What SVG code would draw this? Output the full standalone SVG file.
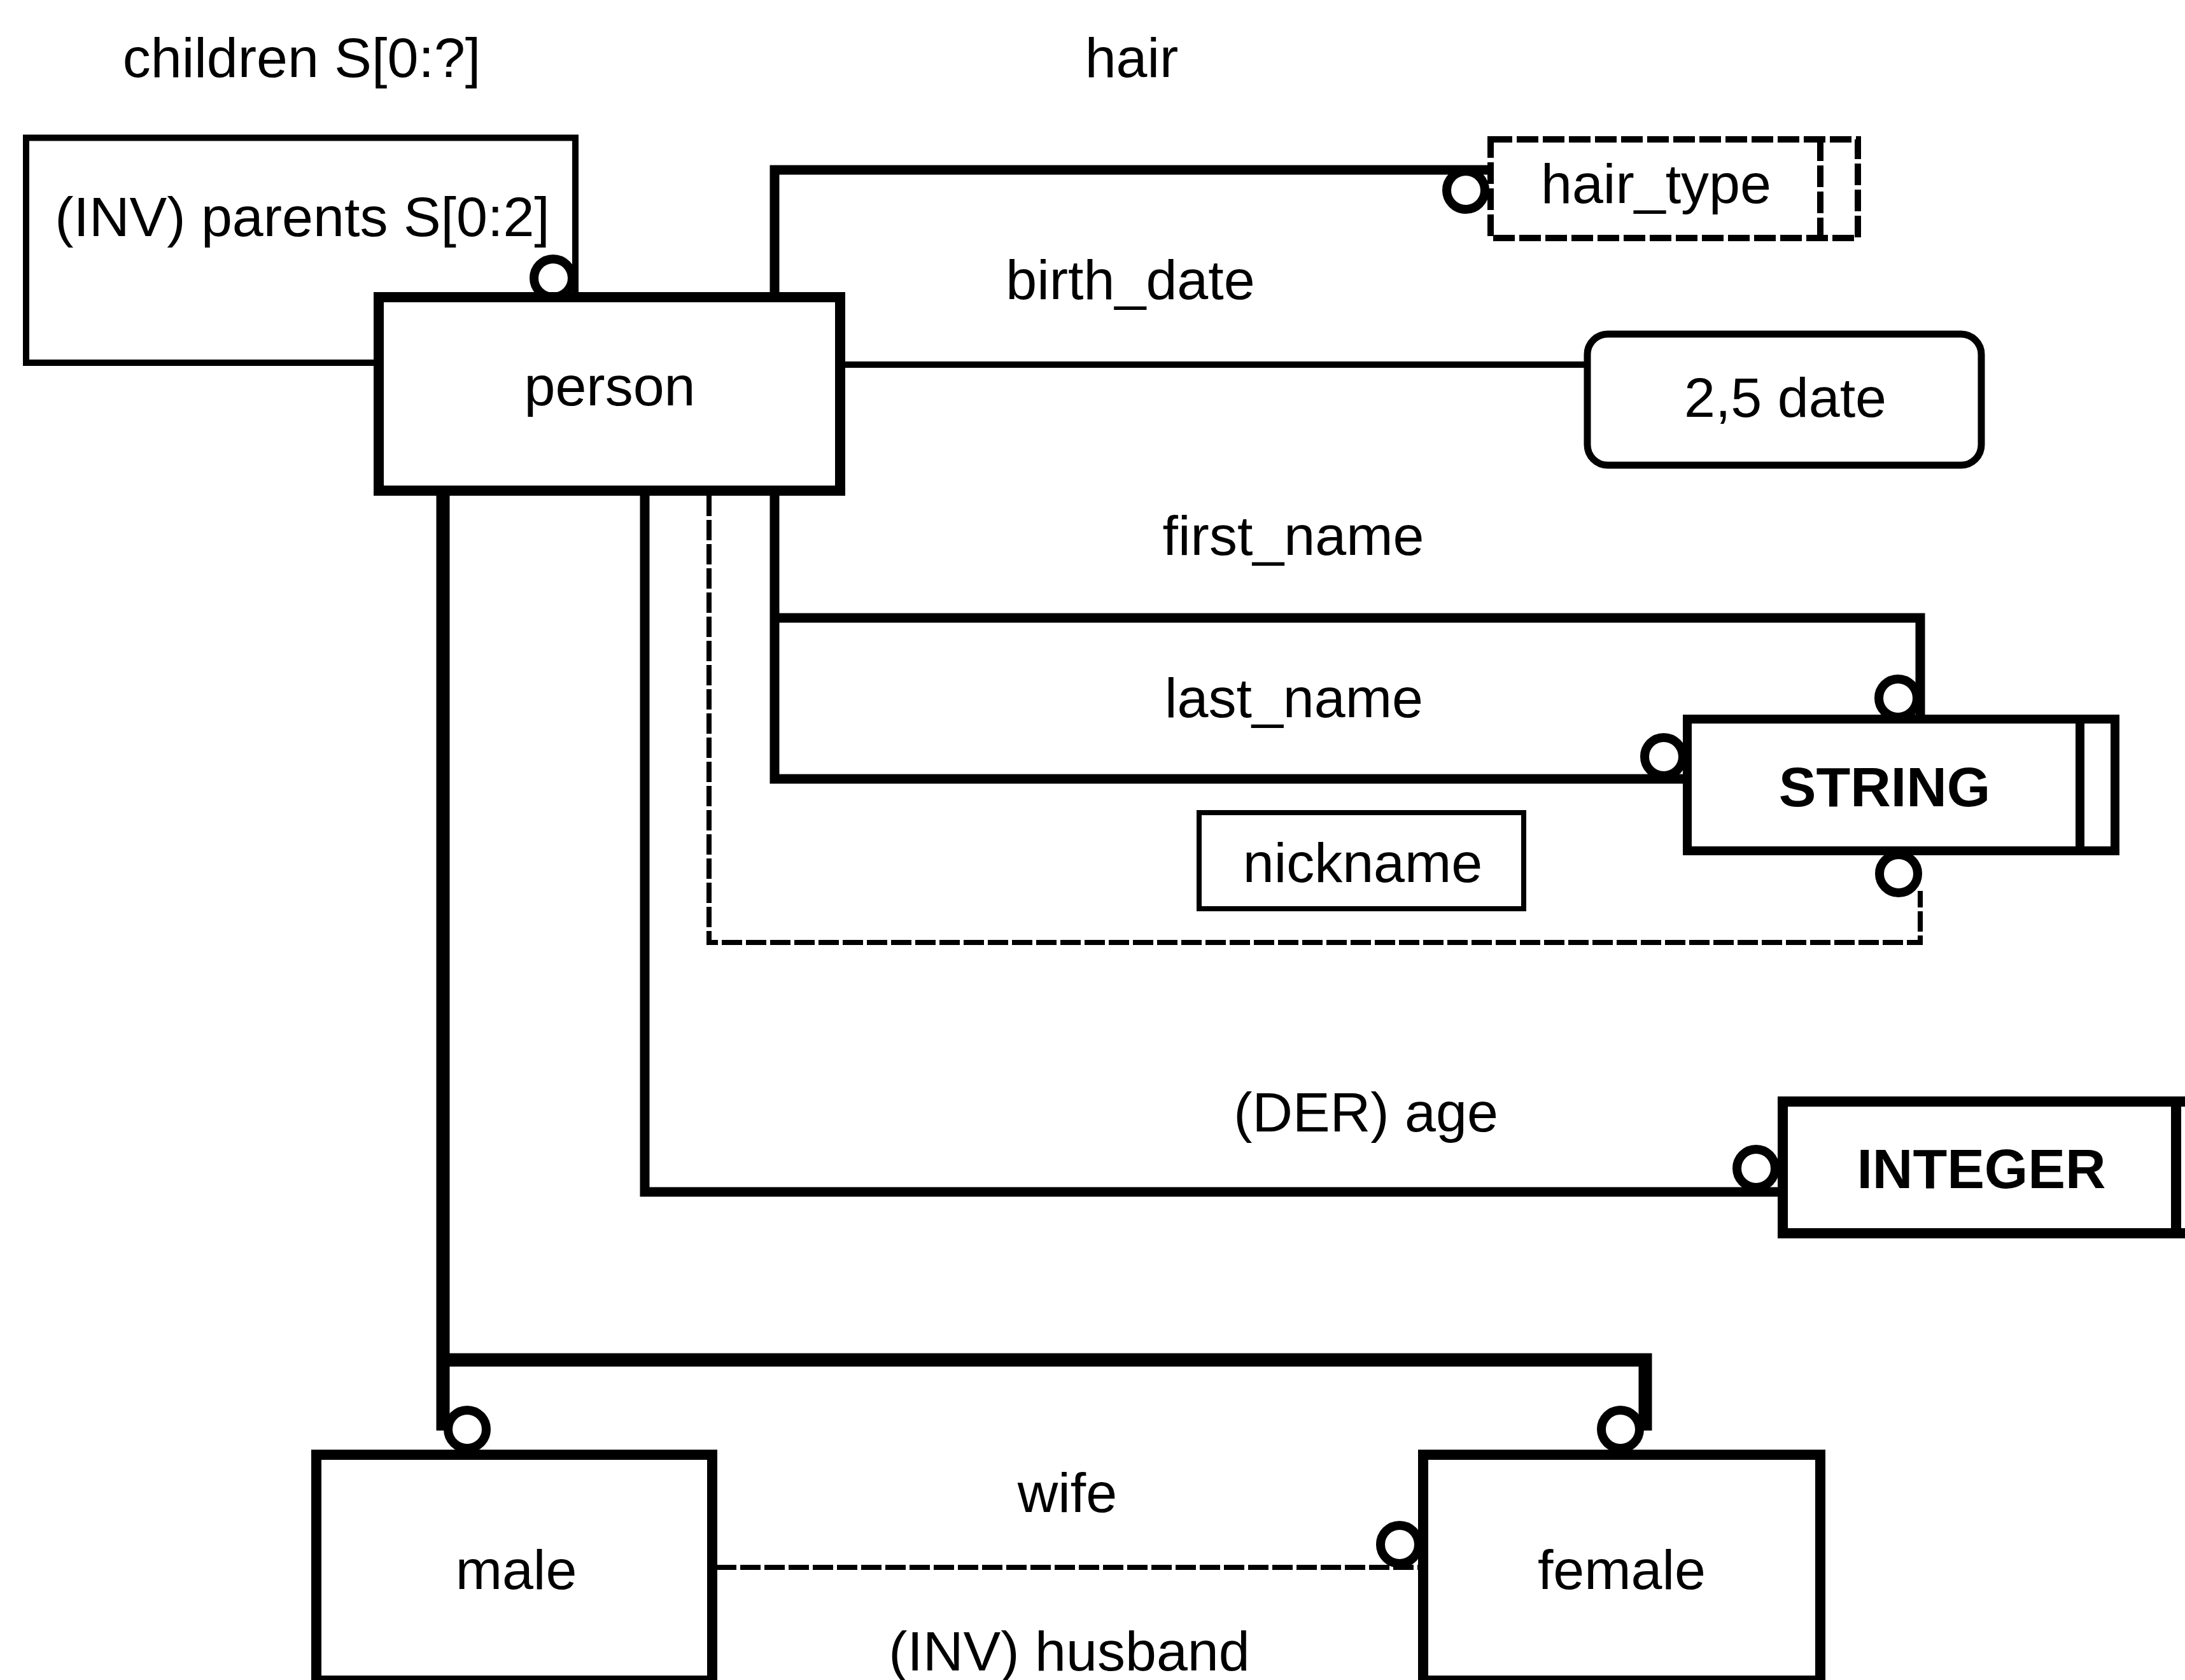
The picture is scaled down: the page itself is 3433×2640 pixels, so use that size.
<svg xmlns="http://www.w3.org/2000/svg" width="3433" height="2640" viewBox="0 0 3433 2640">
<style>
text{font-family:"Liberation Sans",Arial,sans-serif;font-size:88px;fill:#000;text-anchor:middle}
.b{font-weight:bold}
.box{fill:#fff;stroke:#000;stroke-linejoin:miter}
.ln{fill:none;stroke:#000;stroke-linejoin:miter;stroke-linecap:butt}
.dash{stroke-dasharray:32 6}
.circ{fill:#fff;stroke:#000;stroke-width:14}
</style>
<rect width="3433" height="2640" fill="#fff"/>
<g id="connectors">
<path class="ln" stroke-width="10" d="M587 570 H41 V216.5 H904 V459"/>
<path class="ln" stroke-width="15" d="M1217 459 V267 H2337"/>
<path class="ln" stroke-width="10" d="M1328 573 H2490"/>
<path class="ln" stroke-width="15" d="M1217 779 V1224 H2644"/>
<path class="ln" stroke-width="15" d="M1217 971 H3017 V1123"/>
<path class="ln dash" stroke-width="8" d="M1114 779 V1481 H3017 V1400"/>
<path class="ln" stroke-width="15" d="M1013 779 V1873 H2793"/>
<path class="ln" stroke-width="21" d="M696 779 V2248 M696 2137 H2585 V2248"/>
<path class="ln dash" stroke-width="8" d="M1125 2463 H2228"/>
<circle class="circ" cx="869" cy="437" r="30"/>
<circle class="circ" cx="2303" cy="299" r="30"/>
<circle class="circ" cx="2982" cy="1097" r="30"/>
<circle class="circ" cx="2614" cy="1189" r="30"/>
<circle class="circ" cx="2983" cy="1373" r="30"/>
<circle class="circ" cx="2759" cy="1836" r="30"/>
<circle class="circ" cx="734" cy="2246" r="30"/>
<circle class="circ" cx="2546" cy="2246" r="30"/>
<circle class="circ" cx="2199" cy="2427" r="30"/>
</g>
<g id="labels">
<text x="474" y="121">children S[0:?]</text>
<text x="475" y="371">(INV) parents S[0:2]</text>
<text x="1778" y="121">hair</text>
<text x="1776" y="470">birth_date</text>
<text x="2032" y="872">first_name</text>
<text x="2033" y="1127">last_name</text>
<text x="2146" y="1778">(DER) age</text>
<text x="1677" y="2376">wife</text>
<text x="1680" y="2625">(INV) husband</text>
</g>
<g id="person">
<rect class="box" x="595" y="467" width="725" height="304" stroke-width="16"/>
<text x="958" y="637">person</text>
</g>
<g id="hair_type">
<rect class="box" x="2342" y="219" width="577" height="155" stroke-width="10" stroke-dasharray="34 7"/>
<line class="ln" x1="2860" y1="219" x2="2860" y2="374" stroke-width="10" stroke-dasharray="34 7"/>
<text x="2602" y="319">hair_type</text>
</g>
<g id="date">
<rect class="box" x="2494" y="525" width="619" height="206" rx="32" stroke-width="11"/>
<text x="2805" y="655">2,5 date</text>
</g>
<g id="string">
<rect class="box" x="2651" y="1130" width="672" height="207" stroke-width="14"/>
<line class="ln" x1="3268" y1="1130" x2="3268" y2="1337" stroke-width="14"/>
<text class="b" x="2961" y="1267">STRING</text>
</g>
<g id="nickname">
<rect class="box" x="1884" y="1277" width="510" height="151" stroke-width="8"/>
<text x="2141" y="1386">nickname</text>
</g>
<g id="integer">
<rect class="box" x="2801" y="1731" width="674" height="207" stroke-width="16"/>
<line class="ln" x1="3419" y1="1731" x2="3419" y2="1938" stroke-width="16"/>
<text class="b" x="3113" y="1867">INTEGER</text>
</g>
<g id="male">
<rect class="box" x="497" y="2286" width="622" height="355" stroke-width="16"/>
<text x="811" y="2497">male</text>
</g>
<g id="female">
<rect class="box" x="2236" y="2286" width="624" height="355" stroke-width="16"/>
<text x="2548" y="2497">female</text>
</g>
</svg>
